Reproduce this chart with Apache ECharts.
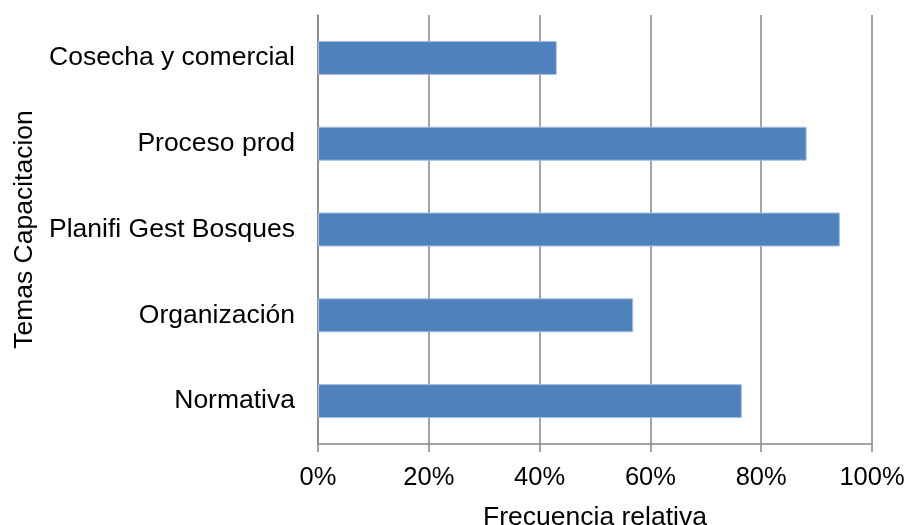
<!DOCTYPE html>
<html>
<head>
<meta charset="utf-8">
<script src="https://cdn.jsdelivr.net/npm/echarts@6/dist/echarts.min.js"></script>
<style>
html,body{margin:0;padding:0;background:#fff;}
#c{width:909px;height:525px;}
</style>
</head>
<body>
<div id="c"></div>
<script>
const categories = ["Cosecha y comercial", "Proceso prod", "Planifi Gest Bosques", "Organización", "Normativa"];
const values = [43.1, 88.2, 94.2, 56.9, 76.5];
const xTicks = [0, 20, 40, 60, 80, 100];

const chart = echarts.init(document.getElementById('c'));
const font = 'Liberation Sans, Arial, sans-serif';
chart.setOption({
  animation: false,
  grid: { left: 318, right: 37, top: 15, bottom: 81, containLabel: false, outerBoundsMode: 'none' },
  xAxis: {
    type: 'value', min: xTicks[0], max: xTicks[xTicks.length - 1], interval: 20,
    name: 'Frecuencia relativa', nameLocation: 'middle', nameGap: 60,
    nameTextStyle: { fontFamily: font, fontSize: 26.5, color: '#000' },
    axisLine: { show: true, lineStyle: { color: '#868686', width: 1.5 } },
    axisTick: { show: true, length: 8, lineStyle: { color: '#868686', width: 1.5 } },
    axisLabel: { formatter: v => v + '%', fontFamily: font, fontSize: 25.5, color: '#000', margin: 21 },
    splitLine: { show: true, lineStyle: { color: '#868686', width: 1.5 } }
  },
  yAxis: {
    type: 'category', data: categories, inverse: true,
    name: 'Temas Capacitacion', nameLocation: 'middle', nameGap: 278,
    nameTextStyle: { fontFamily: font, fontSize: 26.5, color: '#000' },
    axisLine: { show: true, lineStyle: { color: '#868686', width: 1.5 } },
    axisTick: { show: false },
    axisLabel: { fontFamily: font, fontSize: 26.5, color: '#000', margin: 23 }
  },
  series: [{
    type: 'bar', data: values, barWidth: 34,
    itemStyle: { color: '#4F81BD', borderColor: '#A7BFDE', borderWidth: 1 }
  }]
});
</script>
</body>
</html>
